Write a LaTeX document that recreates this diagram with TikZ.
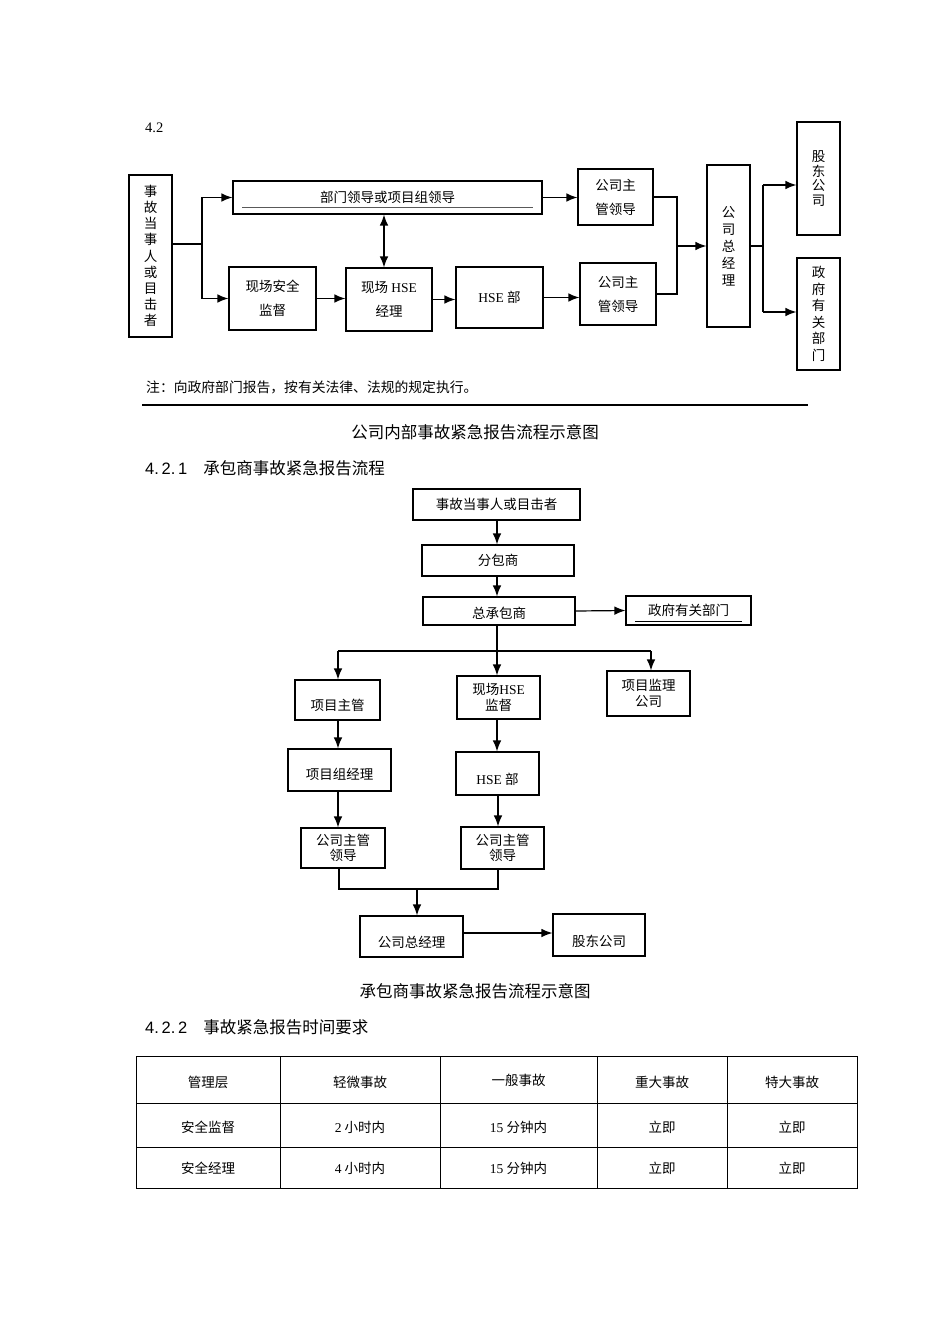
\documentclass[tikz,border=0pt]{standalone}
\usepackage{fontspec}
\setmainfont{Liberation Serif}
\setsansfont{Liberation Sans}
\newfontfamily\cjk{Noto Sans CJK SC}
\usetikzlibrary{arrows.meta,calc}
\newcommand{\latn}[1]{{\rmfamily #1}}
\newcommand{\fs}{\fontsize{13.5}{16}\selectfont}
\begin{document}
\begin{tikzpicture}[x=1pt,y=-1pt,
  box/.style={draw, line width=1.1pt, inner sep=0pt, align=center, font=\cjk\fs},
  arr/.style={line width=1.2pt, -{Latex[length=11pt,width=8.5pt]}},
  ln/.style={line width=1.2pt},
  txt/.style={inner sep=0pt, font=\cjk\fs},
  low/.style={text height=#1},
]
\fill[white] (0,0) rectangle (950,1344);
\useasboundingbox (0,0) rectangle (950,1344);

% ---------------- top chart ----------------
\node[inner sep=0pt, anchor=west, font=\rmfamily\fontsize{14.5}{16}\selectfont] (h42) at (145,128) {4.2};

\node[box, minimum width=43, minimum height=162, font=\cjk\fontsize{13.5}{16.2}\selectfont] (L) at (150.5,256)
  {事\\故\\当\\事\\人\\或\\目\\击\\者};
\node[box, minimum width=309, minimum height=33] (dept) at (387.5,197.5) {部门领导或项目组领导};
\draw[line width=1pt, gray!70!black] ($(dept.south west)+(10,-7)$) -- ($(dept.south east)+(-10,-7)$);
\node[box, minimum width=87, minimum height=63, font=\cjk\fontsize{13.5}{24}\selectfont] (sjaq) at (272.5,298.5) {现场安全\\监督};
\node[box, minimum width=86, minimum height=63, font=\cjk\fontsize{13.5}{24}\selectfont] (hsem) at (389,299.5) {现场 \latn{HSE}\\经理};
\node[box, minimum width=87, minimum height=61] (hsed) at (499.5,297.5) {\latn{HSE} 部};
\node[box, minimum width=75, minimum height=56, font=\cjk\fontsize{13.5}{24}\selectfont] (zg1) at (615.5,197) {公司主\\管领导};
\node[box, minimum width=76, minimum height=62, font=\cjk\fontsize{13.5}{24}\selectfont] (zg2) at (618,294) {公司主\\管领导};
\node[box, minimum width=43, minimum height=162, font=\cjk\fontsize{13.5}{17}\selectfont] (zjl) at (728.5,246) {公\\司\\总\\经\\理};
\node[box, minimum width=43, minimum height=113, font=\cjk\fontsize{13.5}{14.5}\selectfont] (gd) at (818.5,178.5) {股\\东\\公\\司};
\node[box, minimum width=43, minimum height=112, font=\cjk\fontsize{13.5}{16.5}\selectfont] (zf) at (818.5,314) {政\\府\\有\\关\\部\\门};

\coordinate (b1) at (202,244);
\draw[ln] (L.east |- b1) -- (b1);
\draw[arr] (b1) |- (dept.west);
\draw[arr] (b1) |- (sjaq.west);
\draw[arr] (sjaq.east) -- (hsem.west |- sjaq.east);
\draw[arr] (hsem.east) -- (hsed.west |- hsem.east);
\draw[arr] (hsed.east) -- (zg2.west |- hsed.east);
\draw[arr] (dept.east) -- (zg1.west |- dept.east);
\coordinate (dv) at (384,0);
\draw[line width=1.2pt, {Latex[length=11pt,width=8.5pt]}-{Latex[length=11pt,width=8.5pt]}] (dv |- dept.south) -- (dv |- hsem.north);
\coordinate (j1) at (677,0);
\draw[ln] (zg1.east) -- (j1 |- zg1.east) -- (j1 |- zg2.east) -- (zg2.east);
\draw[arr] (j1 |- zjl.west) -- (zjl.west);
\coordinate (g1) at (763,185);
\coordinate (g2) at (763,312);
\draw[ln] (zjl.east) -- (g1 |- zjl.east);
\draw[ln] (g1) -- (g2);
\draw[arr] (g1) -- (g1 -| gd.west);
\draw[arr] (g2) -- (g2 -| zf.west);

\node[txt, anchor=west, font=\cjk\fontsize{13.8}{15}\selectfont] (note) at (146,387) {注：向政府部门报告，按有关法律、法规的规定执行。};
\coordinate (r1) at (142,405);
\coordinate (r2) at (808,405);
\draw[line width=1.6pt] (r1) -- (r2);

\node[txt, font=\cjk\fontsize{16.5}{18}\selectfont] (t1) at (475,432) {公司内部事故紧急报告流程示意图};
\node[txt, anchor=west, font=\cjk\fontsize{16.5}{18}\selectfont] (s421) at (145,468) {\sffamily 4.\,2.\,1\hspace{16pt}\cjk 承包商事故紧急报告流程};

% ---------------- second chart ----------------
\node[box, minimum width=167, minimum height=31] (a1) at (496.5,504.5) {事故当事人或目击者};
\node[box, minimum width=152, minimum height=31] (a2) at (498,560.5) {分包商};
\node[box, minimum width=152, minimum height=28, low=17pt] (a3) at (499,611) {总承包商};
\node[box, minimum width=125, minimum height=29] (a4) at (688.5,610.5) {政府有关部门};
\draw[line width=0.9pt] ($(a4.south west)+(10,-4)$) -- ($(a4.south east)+(-10,-4)$);
\node[box, minimum width=85, minimum height=40, low=22pt] (b1n) at (337.5,700) {项目主管};
\node[box, minimum width=83, minimum height=43, font=\cjk\fontsize{13.5}{16}\selectfont] (b2) at (498.5,697.5) {现场\latn{HSE}\\监督};
\node[box, minimum width=83, minimum height=45, font=\cjk\fontsize{13.5}{16}\selectfont] (b3) at (648.5,693.5) {项目监理\\公司};
\node[box, minimum width=103, minimum height=42, low=20pt] (c1) at (339.5,770) {项目组经理};
\node[box, minimum width=83, minimum height=43, low=24pt] (c2) at (497.5,773.5) {\latn{HSE} 部};
\node[box, minimum width=84, minimum height=40, font=\cjk\fontsize{13.5}{15}\selectfont] (d1) at (343,848) {公司主管\\领导};
\node[box, minimum width=83, minimum height=42, font=\cjk\fontsize{13.5}{15}\selectfont] (d2) at (502.5,848) {公司主管\\领导};
\node[box, minimum width=103, minimum height=41, low=22pt] (e1) at (411.5,936.5) {公司总经理};
\node[box, minimum width=92, minimum height=42, low=24pt] (e2) at (599,935) {股东公司};

\coordinate (x497) at (497,0);
\draw[arr] (x497 |- a1.south) -- (x497 |- a2.north);
\draw[arr] (x497 |- a2.south) -- (x497 |- a3.north);
\draw[arr] (a3.east) -- (a4.west);
\draw[arr] (x497 |- a3.south) -- (x497 |- b2.north);
\coordinate (h1) at (338,651);
\coordinate (h2) at (651,651);
\draw[ln] (h1) -- (h2);
\draw[arr] (h1) -- (h1 |- b1n.north);
\draw[arr] (h2) -- (h2 |- b3.north);
\coordinate (x338) at (338,0);
\draw[arr] (x338 |- b1n.south) -- (x338 |- c1.north);
\draw[arr] (x497 |- b2.south) -- (x497 |- c2.north);
\draw[arr] (x338 |- c1.south) -- (x338 |- d1.north);
\coordinate (x498) at (498,0);
\draw[arr] (x498 |- c2.south) -- (x498 |- d2.north);
\coordinate (m1) at (339,889);
\coordinate (m2) at (498,889);
\coordinate (m3) at (417,889);
\draw[ln] (m1 |- d1.south) -- (m1) -- (m2) -- (m2 |- d2.south);
\draw[arr] (m3) -- (m3 |- e1.north);
\draw[arr] (e1.east |- 0,933) -- (e2.west |- 0,933);

\node[txt, font=\cjk\fontsize{16.5}{18}\selectfont] (t2) at (475,991) {承包商事故紧急报告流程示意图};
\node[txt, anchor=west, font=\cjk\fontsize{16.5}{18}\selectfont] (s422) at (145,1027) {\sffamily 4.\,2.\,2\hspace{16pt}\cjk 事故紧急报告时间要求};

% ---------------- table ----------------
\draw[line width=0.9pt] (136,1056) rectangle (857,1188);
\foreach \yy in {1103,1147} \draw[line width=0.9pt] (136,\yy) -- (857,\yy);
\foreach \xx in {280,440,597,727} \draw[line width=0.9pt] (\xx,1056) -- (\xx,1188);

\node[txt] (c11) at (208,1082) {管理层};
\node[txt] (c12) at (360,1082) {轻微事故};
\node[txt] (c13) at (518.5,1080) {一般事故};
\node[txt] (c14) at (662,1082) {重大事故};
\node[txt] (c15) at (792,1082) {特大事故};
\node[txt] (c21) at (208,1127) {安全监督};
\node[txt] (c22) at (360,1127) {\latn{2} 小时内};
\node[txt] (c23) at (518.5,1127) {\latn{15} 分钟内};
\node[txt] (c24) at (662,1127) {立即};
\node[txt] (c25) at (792,1127) {立即};
\node[txt] (c31) at (208,1168) {安全经理};
\node[txt] (c32) at (360,1168) {\latn{4} 小时内};
\node[txt] (c33) at (518.5,1168) {\latn{15} 分钟内};
\node[txt] (c34) at (662,1168) {立即};
\node[txt] (c35) at (792,1168) {立即};
\end{tikzpicture}
\end{document}
